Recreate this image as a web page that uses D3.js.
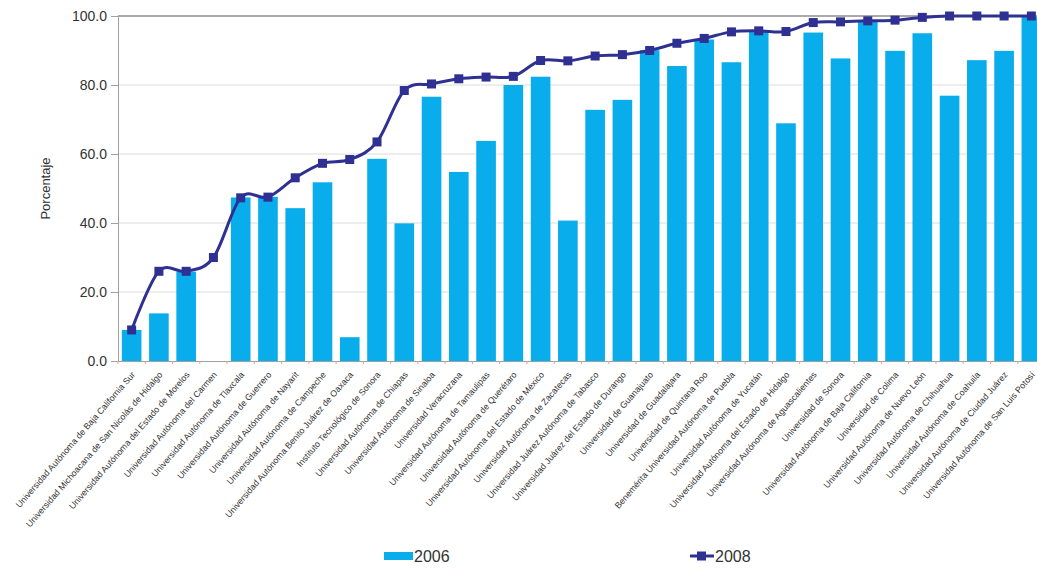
<!DOCTYPE html>
<html>
<head>
<meta charset="utf-8">
<script src="https://cdn.jsdelivr.net/npm/d3@7"></script>
<style>
  body { margin: 0; background: #fff; }
  svg { display: block; font-family: "Liberation Sans", Arial, sans-serif; }
</style>
</head>
<body>
<svg id="chart" width="1037" height="569"></svg>
<script>
const universidades = [
  'Universidad Autónoma de Baja California Sur',
  'Universidad Michoacana de San Nicolás de Hidalgo',
  'Universidad Autónoma del Estado de Morelos',
  'Universidad Autónoma del Carmen',
  'Universidad Autónoma de Tlaxcala',
  'Universidad Autónoma de Guerrero',
  'Universidad Autónoma de Nayarit',
  'Universidad Autónoma de Campeche',
  'Universidad Autónoma Benito Juárez de Oaxaca',
  'Instituto Tecnológico de Sonora',
  'Universidad Autónoma de Chiapas',
  'Universidad Autónoma de Sinaloa',
  'Universidad Veracruzana',
  'Universidad Autónoma de Tamaulipas',
  'Universidad Autónoma de Querétaro',
  'Universidad Autónoma del Estado de México',
  'Universidad Autónoma de Zacatecas',
  'Universidad Juárez Autónoma de Tabasco',
  'Universidad Juárez del Estado de Durango',
  'Universidad de Guanajuato',
  'Universidad de Guadalajara',
  'Universidad de Quintana Roo',
  'Benemérita Universidad Autónoma de Puebla',
  'Universidad Autónoma de Yucatán',
  'Universidad Autónoma del Estado de Hidalgo',
  'Universidad Autónoma de Aguascalientes',
  'Universidad de Sonora',
  'Universidad Autónoma de Baja California',
  'Universidad de Colima',
  'Universidad Autónoma de Nuevo León',
  'Universidad Autónoma de Chihuahua',
  'Universidad Autónoma de Coahuila',
  'Universidad Autónoma de Ciudad Juárez',
  'Universidad Autónoma de San Luis Potosí'
];

// null = sin dato en 2006
const valores2006 = [9.0, 13.8, 25.9, null, 47.4, 47.6, 44.3, 51.8, 6.9, 58.6,
  39.9, 76.6, 54.8, 63.8, 80.0, 82.4, 40.7, 72.8, 75.7, 90.1,
  85.5, 93.2, 86.6, 95.5, 68.9, 95.2, 87.7, 98.6, 89.9, 95.0,
  76.9, 87.2, 89.9, 99.8];

const valores2008 = [9.0, 26.0, 26.0, 30.0, 47.3, 47.5, 53.1, 57.3, 58.4, 63.5,
  78.4, 80.3, 81.8, 82.3, 82.5, 87.1, 87.0, 88.4, 88.8, 90.0,
  92.1, 93.5, 95.4, 95.7, 95.5, 98.1, 98.3, 98.6, 98.8, 99.6,
  100, 100, 100, 100];

const yTicks = [0, 20, 40, 60, 80, 100];

const colorBar = '#0aadec';
const colorLine = '#2e3092';

const svg = d3.select('#chart');
const margin = { top: 16, left: 118, bottom: 208 };
const plotW = 927;
const plotH = 569 - margin.top - margin.bottom;

const x = d3.scaleBand()
  .domain(universidades)
  .range([margin.left, margin.left + plotW])
  .paddingInner(0.28)
  .paddingOuter(0.14);

const y = d3.scaleLinear()
  .domain([0, 100])
  .range([margin.top + plotH, margin.top]);

// gridlines
svg.append('g')
  .selectAll('line')
  .data(yTicks.filter(d => d > 0 && d < 100))
  .join('line')
  .attr('x1', margin.left).attr('x2', margin.left + plotW)
  .attr('y1', d => y(d)).attr('y2', d => y(d))
  .attr('stroke', '#dcdcdc')
  .attr('stroke-width', 1);

svg.append('line')
  .attr('x1', margin.left).attr('x2', margin.left + plotW)
  .attr('y1', y(100)).attr('y2', y(100))
  .attr('stroke', '#8c8c8c')
  .attr('stroke-width', 1.5);

// bars 2006
const barData = universidades.map((u, i) => ({ u, v: valores2006[i] })).filter(d => d.v != null);

svg.append('g')
  .selectAll('rect')
  .data(barData)
  .join('rect')
  .attr('x', d => x(d.u))
  .attr('width', x.bandwidth())
  .attr('y', d => y(d.v))
  .attr('height', d => y(0) - y(d.v))
  .attr('fill', colorBar);

// y axis
const yAxis = svg.append('g')
  .attr('transform', `translate(${margin.left},0)`)
  .call(d3.axisLeft(y).tickValues(yTicks).tickFormat(d3.format('.1f')).tickSize(7).tickPadding(4));

yAxis.select('.domain').attr('stroke', '#a0a0a0');
yAxis.selectAll('.tick line').attr('stroke', '#a0a0a0');
yAxis.selectAll('.tick text')
  .attr('font-size', 14)
  .attr('fill', '#333')
  .attr('font-family', '"Liberation Sans", Arial, sans-serif');

// x axis
const xAxis = svg.append('g')
  .attr('transform', `translate(0,${y(0)})`)
  .call(d3.axisBottom(x).tickSize(0).tickPadding(0));

xAxis.select('.domain').attr('stroke', '#a0a0a0');

// small boundary ticks between categories
svg.append('g')
  .selectAll('line')
  .data(universidades)
  .join('line')
  .attr('x1', d => x(d) - x.step() * x.paddingInner() / 2)
  .attr('x2', d => x(d) - x.step() * x.paddingInner() / 2)
  .attr('y1', y(0)).attr('y2', y(0) + 3)
  .attr('stroke', '#e0a0a0');

xAxis.selectAll('.tick text')
  .attr('font-size', 8.8)
  .attr('fill', '#333')
  .attr('font-family', '"Liberation Sans", Arial, sans-serif')
  .attr('text-anchor', 'end')
  .attr('dy', 0)
  .attr('transform', 'translate(4,14) rotate(-49)');

// y label
svg.append('text')
  .attr('transform', `translate(50,${y(50)}) rotate(-90)`)
  .attr('text-anchor', 'middle')
  .attr('font-size', 13)
  .attr('fill', '#333')
  .text('Porcentaje');

// line 2008
const cx = d => x(d) + x.bandwidth() / 2;
const lineData = universidades.map((u, i) => ({ u, v: valores2008[i] }));

svg.append('path')
  .datum(lineData)
  .attr('fill', 'none')
  .attr('stroke', colorLine)
  .attr('stroke-width', 3)
  .attr('d', d3.line().x(d => cx(d.u)).y(d => y(d.v)).curve(d3.curveCardinal.tension(0)));

svg.append('g')
  .selectAll('rect')
  .data(lineData)
  .join('rect')
  .attr('x', d => cx(d.u) - 4.5)
  .attr('y', d => y(d.v) - 4.5)
  .attr('width', 9).attr('height', 9)
  .attr('fill', colorLine);

// legend
const legend = svg.append('g').attr('font-size', 16).attr('fill', '#333');

legend.append('rect')
  .attr('x', 384).attr('y', 552).attr('width', 29).attr('height', 8)
  .attr('fill', colorBar);
legend.append('text')
  .attr('x', 414).attr('y', 562)
  .text('2006');

legend.append('line')
  .attr('x1', 690).attr('x2', 714).attr('y1', 556).attr('y2', 556)
  .attr('stroke', colorLine).attr('stroke-width', 3);
legend.append('rect')
  .attr('x', 697).attr('y', 551.5).attr('width', 9).attr('height', 9)
  .attr('fill', colorLine);
legend.append('text')
  .attr('x', 715).attr('y', 562)
  .text('2008');
</script>
</body>
</html>
